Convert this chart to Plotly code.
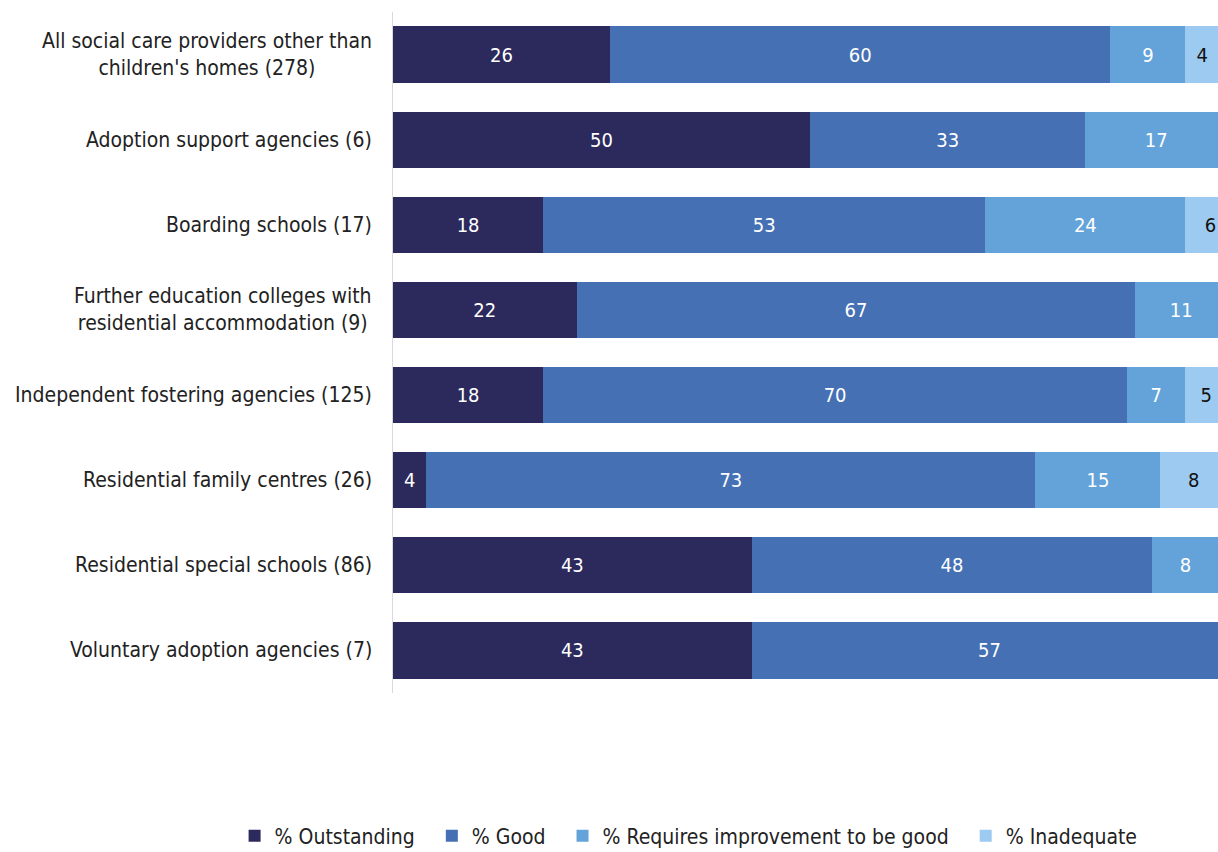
import plotly.graph_objects as go

# Provider types (top to bottom) and the share of each inspection judgement
categories = [
    "All social care providers other than<br>children's homes (278)",
    "Adoption support agencies (6)",
    "Boarding schools (17)",
    "Further education colleges with<br>residential accommodation (9)",
    "Independent fostering agencies (125)",
    "Residential family centres (26)",
    "Residential special schools (86)",
    "Voluntary adoption agencies (7)",
]
outstanding = [26, 50, 18, 22, 18, 4, 43, 43]
good = [60, 33, 53, 67, 70, 73, 48, 57]
requires_improvement = [9, 17, 24, 11, 7, 15, 8, 0]
inadequate = [4, 0, 6, 0, 5, 8, 0, 0]

# legend names carry a little trailing no-break padding to widen the entry gaps
PAD = "\u00a0\u00a0"
series = [
    ("% Outstanding" + PAD, outstanding, "#2C2A5C", "white"),
    ("% Good" + PAD, good, "#4571B4", "white"),
    ("% Requires improvement to be good" + PAD, requires_improvement, "#64A3DA", "white"),
    ("% Inadequate", inadequate, "#9DCAF0", "#111111"),
]

FONT = "DejaVu Sans Condensed, DejaVu Sans, sans-serif"

fig = go.Figure()
for name, vals, color, tcolor in series:
    fig.add_trace(go.Bar(
        name=name,
        y=categories,
        x=[v if v else None for v in vals],
        orientation="h",
        marker=dict(color=color, line=dict(width=0)),
        text=[str(v) if v else "" for v in vals],
        textposition="inside",
        insidetextanchor="middle",
        textangle=0,
        constraintext="none",
        textfont=dict(color=tcolor, size=20, family=FONT),
        hoverinfo="name+x",
    ))

# Category labels as centred annotations to the left of the axis
for cat in categories:
    fig.add_annotation(
        x=0, y=cat, xref="paper", yref="y",
        text=cat, showarrow=False, xanchor="right", yanchor="middle",
        xshift=-19, align="center",
        font=dict(size=21, color="#222222", family=FONT),
    )

fig.update_layout(
    width=1218, height=852,
    margin=dict(l=393, r=0, t=12, b=159, autoexpand=False),
    barmode="stack",
    bargap=0.34,
    plot_bgcolor="white",
    paper_bgcolor="white",
    font=dict(family=FONT, size=21, color="#222222"),
    xaxis=dict(range=[0, 98.9], showticklabels=False, showgrid=False,
               zeroline=False, showline=False, fixedrange=True),
    yaxis=dict(autorange="reversed", showticklabels=False, showgrid=False,
               showline=True, linecolor="#D9D9D9", linewidth=1, ticks=""),
    legend=dict(orientation="h", x=-0.192, xanchor="left", y=-0.21,
                yanchor="middle", font=dict(size=21, family=FONT),
                itemwidth=30, traceorder="normal", tracegroupgap=0),
    showlegend=True,
)

fig.write_html("out.html")
